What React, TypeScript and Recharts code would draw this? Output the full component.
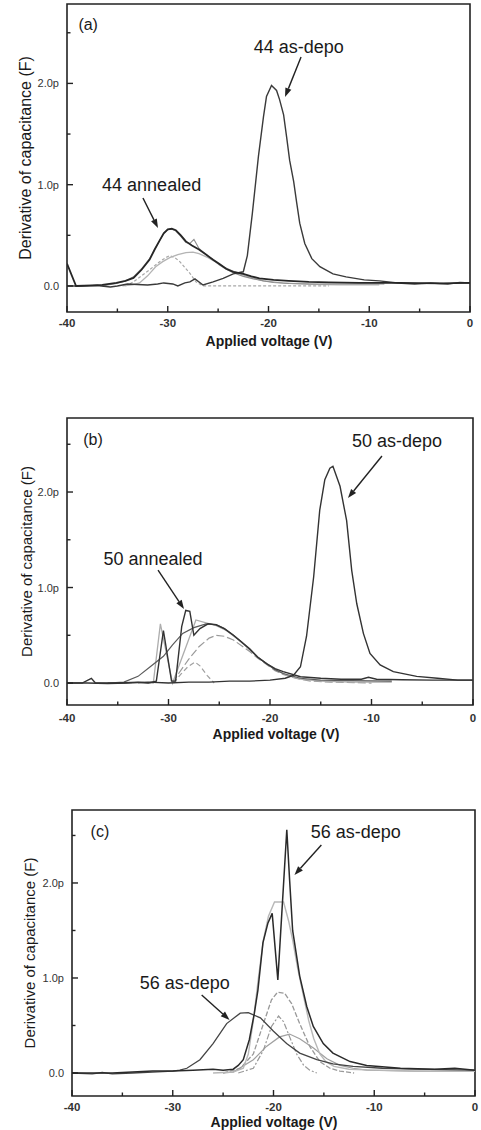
import React from 'react';
import { LineChart, Line, XAxis, YAxis, ReferenceArea, ReferenceDot, ReferenceLine } from 'recharts';

type Pt = [number, number];

const X_TICKS = [-40, -35, -30, -25, -20, -15, -10, -5, 0];
const X_MAJOR = [-40, -30, -20, -10, 0];
const Y_TICKS = [0, 0.5, 1, 1.5, 2, 2.5];
const Y_MAJOR = [0, 1, 2];
const Y_TICK_LABELS = ['0.0', '1.0p', '2.0p'];
const X_TITLE = 'Applied voltage (V)';
const Y_TITLE = 'Derivative of capacitance (F)';

// ---------- Panel (a) ----------
const aAsDepo: Pt[] = [
  [-40, 0], [-38.5, 0], [-37, 0.005], [-35.7, -0.01], [-35, 0], [-34, 0.02], [-33, 0.015], [-32, 0.01],
  [-31, 0.02], [-30.4, 0.03], [-29.5, 0.02], [-29, 0], [-28.3, 0.03], [-27.8, 0.04], [-27.3, 0.07],
  [-26.5, 0.01], [-25.5, 0.04], [-24.5, 0.075], [-23.5, 0.12], [-23, 0.13], [-22.5, 0.14], [-22.1, 0.3],
  [-21.6, 0.72], [-21, 1.28], [-20.5, 1.67], [-20.2, 1.87], [-19.7, 1.98], [-19.2, 1.93], [-18.9, 1.84],
  [-18.5, 1.69], [-18.2, 1.47], [-17.9, 1.24], [-17.5, 1.03], [-17.2, 0.82], [-16.9, 0.62], [-16.4, 0.42],
  [-15.7, 0.27], [-14.9, 0.19], [-13.6, 0.12], [-12.3, 0.09], [-10.5, 0.06], [-9, 0.05], [-7.2, 0.03],
  [-5.5, 0.02], [-3.9, 0.03], [-2.2, 0.02], [-1, 0.035], [0, 0.03],
];
const aAnnealed: Pt[] = [
  [-40, 0.22], [-39.1, 0], [-37.5, 0.005], [-36.5, 0.01], [-35.1, 0.03], [-34.2, 0.05], [-33.4, 0.08],
  [-32.6, 0.16], [-31.8, 0.26], [-31.3, 0.36], [-30.8, 0.45], [-30.4, 0.52], [-30, 0.56], [-29.6, 0.565],
  [-29.2, 0.55], [-28.7, 0.5], [-28.2, 0.44], [-27.6, 0.4], [-26.9, 0.36], [-26.2, 0.31], [-25.5, 0.26],
  [-24.9, 0.22], [-24.2, 0.17], [-23.5, 0.14], [-22.5, 0.12], [-21.7, 0.095], [-20.9, 0.076], [-19.5, 0.06],
  [-18, 0.05], [-16, 0.04], [-14, 0.035], [-11, 0.03], [-7, 0.03], [-3, 0.025], [0, 0.03],
];
const aFitSum: Pt[] = [
  [-36.5, 0], [-35.1, 0.025], [-34.2, 0.05], [-33.4, 0.09], [-32.6, 0.17], [-31.8, 0.27], [-31.3, 0.36],
  [-30.8, 0.45], [-30.4, 0.52], [-30, 0.555], [-29.6, 0.56], [-29.2, 0.545], [-28.7, 0.49], [-28.2, 0.43],
  [-27.8, 0.42], [-27.4, 0.46], [-26.9, 0.37], [-26.2, 0.31], [-25.5, 0.26], [-24.9, 0.21], [-24.2, 0.165],
  [-23.5, 0.13], [-22.5, 0.095], [-21.5, 0.07], [-20.5, 0.05], [-19.5, 0.035], [-18, 0.025], [-15, 0.02],
  [-10, 0.02], [-8.5, 0.02],
];
const aPeak1: Pt[] = [
  [-34.2, 0], [-33.4, 0.04], [-32.6, 0.1], [-31.8, 0.16], [-30.8, 0.24], [-30.2, 0.28], [-29.8, 0.3],
  [-29.3, 0.28], [-28.8, 0.24], [-27.8, 0.125], [-27.2, 0.04], [-26.5, 0], [-14, 0],
];
const aPeak2: Pt[] = [
  [-34.5, 0], [-33.5, 0.01], [-32.8, 0.03], [-32, 0.1], [-31.2, 0.19], [-30.5, 0.24], [-29.8, 0.28],
  [-29, 0.31], [-28.2, 0.33], [-27.5, 0.335], [-26.9, 0.32], [-26, 0.28], [-25.3, 0.24], [-24.5, 0.19],
  [-23.6, 0.15], [-22.3, 0.1], [-20.5, 0.05], [-18.6, 0.03], [-16, 0.015], [-13, 0.01], [-9, 0.01],
];

// ---------- Panel (b) ----------
const bAsDepo: Pt[] = [
  [-40, 0], [-38, 0], [-36, -0.005], [-34, 0], [-32, 0.01], [-30, 0], [-28, 0.01], [-26, 0.01], [-24, 0.02],
  [-22, 0.02], [-20, 0.03], [-18.5, 0.05], [-17.7, 0.08], [-17, 0.17], [-16.4, 0.49], [-15.7, 1.11],
  [-15.1, 1.81], [-14.6, 2.13], [-14.1, 2.25], [-13.8, 2.27], [-13.1, 2.06], [-12.45, 1.7], [-11.95, 1.18],
  [-11.45, 0.83], [-10.8, 0.52], [-10.15, 0.31], [-9.15, 0.19], [-7.85, 0.12], [-5.55, 0.07], [-3.5, 0.05],
  [-1.5, 0.03], [0, 0.03],
];
const bAnnealed: Pt[] = [
  [-40, 0], [-38.5, 0], [-37.6, 0.05], [-37.2, 0], [-35, 0], [-33, 0.01], [-32, 0], [-31.2, 0.02],
  [-30.5, 0.55], [-29.7, 0.02], [-29.3, 0.02], [-28.7, 0.59], [-28.3, 0.76], [-27.9, 0.75], [-27.5, 0.5],
  [-26.9, 0.57], [-26.1, 0.62], [-25.3, 0.61], [-24.5, 0.57], [-23.6, 0.5], [-22.8, 0.43], [-22, 0.36],
  [-21.2, 0.27], [-20.3, 0.2], [-19.5, 0.15], [-18.7, 0.12], [-17, 0.066], [-15, 0.05], [-13, 0.04],
  [-11, 0.04], [-10.3, 0.06], [-9.5, 0.04], [-7, 0.035], [-4, 0.03], [0, 0.03],
];
const bSmooth: Pt[] = [
  [-36, 0], [-34.4, 0.01], [-33, 0.07], [-31.8, 0.17], [-30.5, 0.28], [-29.6, 0.4], [-28.6, 0.52],
  [-27.5, 0.58], [-26.3, 0.62], [-25.3, 0.61], [-24.5, 0.57], [-23.6, 0.5], [-22.8, 0.43], [-22, 0.35],
  [-21.2, 0.27], [-20.3, 0.2], [-19.5, 0.14], [-18.7, 0.1], [-17, 0.05], [-15, 0.03], [-12, 0.025], [-8, 0.02],
];
const bFitSum: Pt[] = [
  [-33, 0], [-31.5, 0], [-30.8, 0.62], [-29.6, 0], [-27.3, 0.66], [-26.3, 0.63], [-25.3, 0.6], [-24.3, 0.55],
  [-23.3, 0.47], [-22.3, 0.38], [-21.3, 0.28], [-20.3, 0.2], [-19.3, 0.13], [-18.3, 0.08], [-17, 0.04],
  [-15, 0.02], [-12, 0.01], [-8, 0.01],
];
const bPeakSmall: Pt[] = [
  [-29.5, 0], [-28.8, 0.09], [-28.1, 0.17], [-27.4, 0.22], [-26.9, 0.18], [-26.2, 0.08], [-25.5, 0],
];
const bPeakBroad: Pt[] = [
  [-29.6, 0], [-29, 0.1], [-28, 0.25], [-27, 0.38], [-26, 0.47], [-25.3, 0.5], [-24.5, 0.49], [-23.6, 0.45],
  [-22.8, 0.39], [-22, 0.33], [-21.2, 0.26], [-20.3, 0.19], [-19.5, 0.13], [-18.7, 0.09], [-17.5, 0.05],
  [-16, 0.02], [-14, 0.01], [-10, 0],
];

// ---------- Panel (c) ----------
const cAsDepoLow: Pt[] = [
  [-40, 0], [-38, -0.01], [-37, 0.005], [-36, -0.01], [-34, 0], [-32, 0.01], [-30, 0.02], [-29.3, 0.03],
  [-28.6, 0.05], [-27.3, 0.14], [-26, 0.31], [-24.65, 0.52], [-23.3, 0.63], [-22.5, 0.635], [-21.3, 0.58],
  [-20, 0.44], [-18.7, 0.31], [-17.4, 0.21], [-15.7, 0.14], [-14.1, 0.095], [-12.1, 0.07], [-9.2, 0.05],
  [-6, 0.04], [0, 0.03],
];
const cAsDepoHigh: Pt[] = [
  [-40, 0], [-38, 0], [-36, 0], [-34, 0.01], [-32, 0.02], [-30, 0.02], [-28, 0.03], [-26, 0.04], [-25, 0.03],
  [-24, 0.04], [-23.5, 0.08], [-23, 0.14], [-22.4, 0.35], [-21.9, 0.63], [-21.55, 0.87], [-21.05, 1.37],
  [-20.55, 1.58], [-20.13, 1.68], [-19.57, 0.98], [-18.68, 2.56], [-18.4, 2.03], [-18.1, 1.5], [-17.4, 1.02],
  [-16.7, 0.7], [-16.05, 0.49], [-15.06, 0.31], [-14.1, 0.21], [-12.4, 0.12], [-10.75, 0.08], [-7.4, 0.05],
  [-4, 0.04], [-2, 0.05], [0, 0.03],
];
const cFitSum: Pt[] = [
  [-26, 0], [-24, 0.01], [-23, 0.05], [-22.5, 0.2], [-22, 0.55], [-21.5, 1], [-21, 1.4], [-20.5, 1.65],
  [-19.9, 1.8], [-19, 1.8], [-18.5, 1.6], [-18.1, 1.4], [-17.6, 1.1], [-17, 0.8], [-16.5, 0.55], [-16, 0.36],
  [-15.4, 0.2], [-14.8, 0.12], [-14, 0.07], [-12.5, 0.04], [-10, 0.03], [-6, 0.02], [0, 0.02],
];
const cPeakMid: Pt[] = [
  [-25, 0], [-23.3, 0.05], [-22, 0.2], [-21, 0.52], [-20.2, 0.77], [-19.6, 0.85], [-18.9, 0.84], [-18.2, 0.73],
  [-17.4, 0.52], [-16.4, 0.28], [-15.4, 0.12], [-14.4, 0.05], [-13.4, 0.02], [-12, 0],
];
const cPeakNarrow: Pt[] = [
  [-23.5, 0], [-22, 0.05], [-21, 0.24], [-20.2, 0.49], [-19.5, 0.6], [-19, 0.54], [-18.4, 0.38], [-17.7, 0.2],
  [-17, 0.08], [-16.4, 0.03], [-15.7, 0],
];
const cPeakBroad: Pt[] = [
  [-25, 0], [-24, 0.01], [-22, 0.14], [-20.7, 0.28], [-19.4, 0.38], [-18.4, 0.41], [-17.4, 0.36], [-16, 0.26],
  [-14.7, 0.15], [-13.4, 0.08], [-12.1, 0.05], [-10.75, 0.03], [-6, 0.02], [0, 0.02],
];

// ---------- Annotations (data coordinates) ----------
const aNotes = [
  { v: -37.9, c: 2.58, text: '(a)', size: 16 },
  { v: -17.0, c: 2.36, text: '44 as-depo', size: 18 },
  { v: -31.6, c: 1.0, text: '44 annealed', size: 18 },
];
const aArrows = [
  { from: [-16.77, 2.26], to: [-18.36, 1.866] },
  { from: [-32.46, 0.869], to: [-30.97, 0.573] },
];
const bNotes = [
  { v: -37.44, c: 2.545, text: '(b)', size: 16 },
  { v: -7.49, c: 2.534, text: '50 as-depo', size: 18 },
  { v: -31.53, c: 1.298, text: '50 annealed', size: 18 },
];
const bArrows = [
  { from: [-8.97, 2.377], to: [-12.32, 1.937] },
  { from: [-31.03, 1.183], to: [-28.47, 0.775] },
];
const cNotes = [
  { v: -37.23, c: 2.537, text: '(c)', size: 16 },
  { v: -11.83, c: 2.537, text: '56 as-depo', size: 18 },
  { v: -28.81, c: 0.947, text: '56 as-depo', size: 18 },
];
const cArrows = [
  { from: [-15.25, 2.4], to: [-17.92, 2.084] },
  { from: [-27.13, 0.821], to: [-24.36, 0.558] },
];

const FONT = "Arial, 'Liberation Sans', Helvetica, sans-serif";
const INK = '#222';

type Series = { data: Pt[]; stroke: string; width: number; dash?: string };

const toPts = (arr: Pt[]) => arr.map(([v, c]) => ({ v, c }));

const Arrow = (p: any) => {
  const { x1, y1, x2, y2 } = p;
  const ang = Math.atan2(y2 - y1, x2 - x1);
  const L = 9;
  const W = 3.2;
  const bx = x2 - L * Math.cos(ang);
  const by = y2 - L * Math.sin(ang);
  const pts = `${x2},${y2} ${bx - W * Math.sin(ang)},${by + W * Math.cos(ang)} ${bx + W * Math.sin(ang)},${by - W * Math.cos(ang)}`;
  return (
    <g>
      <line x1={x1} y1={y1} x2={bx} y2={by} stroke={INK} strokeWidth={1.4} />
      <polygon points={pts} fill={INK} />
    </g>
  );
};

type PanelCfg = {
  top: number;
  height: number;
  margin: { top: number; right: number; left: number; bottom: number };
  yAxisWidth: number;
  xAxisHeight: number;
  yDomain: [number, number];
  tickDy: number;
  titleDy: number;
  titleX: number;
  yTitleX: number;
  yTitleSize: number;
  series: Series[];
  notes: { v: number; c: number; text: string; size: number }[];
  arrows: { from: number[]; to: number[] }[];
};

const Panel = ({ cfg }: { cfg: PanelCfg }) => {
  const plotTop = cfg.margin.top;
  const plotBottom = cfg.height - cfg.margin.bottom - cfg.xAxisHeight;
  const yMid = (plotTop + plotBottom) / 2;

  const xTick = (props: any) => {
    const { x, y, payload } = props;
    const major = X_MAJOR.includes(payload.value);
    return (
      <g>
        <line x1={x} x2={x} y1={y} y2={y - (major ? 6 : 3.5)} stroke={INK} strokeWidth={1.4} />
        {major && (
          <text x={x} y={y + cfg.tickDy} textAnchor="middle" dominantBaseline="central" fontFamily={FONT}
            fontSize={11.5} fontWeight="bold" fill="#333">
            {payload.value}
          </text>
        )}
      </g>
    );
  };
  const yTick = (props: any) => {
    const { x, y, payload } = props;
    const idx = Y_MAJOR.indexOf(payload.value);
    const major = idx >= 0;
    return (
      <g>
        <line x1={x} x2={x + (major ? 6 : 3.5)} y1={y} y2={y} stroke={INK} strokeWidth={1.4} />
        {major && (
          <text x={x - 8} y={y} textAnchor="end" dominantBaseline="central" fontFamily={FONT}
            fontSize={11} fill="#333">
            {Y_TICK_LABELS[idx]}
          </text>
        )}
      </g>
    );
  };

  return (
    <div style={{ position: 'absolute', left: 0, top: cfg.top, width: 481, height: cfg.height }}>
      <LineChart width={481} height={cfg.height} margin={cfg.margin}>
        <XAxis
          type="number"
          dataKey="v"
          domain={[-40, 0]}
          ticks={X_TICKS}
          interval={0}
          allowDataOverflow
          axisLine={false}
          tickLine={false}
          tickSize={0}
          tickMargin={0}
          height={cfg.xAxisHeight}
          tick={xTick}
          label={{
            content: () => (
              <text x={cfg.titleX} y={plotBottom + cfg.titleDy} textAnchor="middle" dominantBaseline="central"
                fontFamily={FONT} fontSize={14} fontWeight="bold" fill="#1a1a1a">
                {X_TITLE}
              </text>
            ),
          }}
        />
        <YAxis
          type="number"
          domain={cfg.yDomain}
          ticks={Y_TICKS}
          interval={0}
          allowDataOverflow
          axisLine={false}
          tickLine={false}
          tickSize={0}
          tickMargin={0}
          width={cfg.yAxisWidth}
          tick={yTick}
          label={{
            content: () => (
              <text x={cfg.yTitleX} y={yMid} textAnchor="middle" dominantBaseline="central"
                transform={`rotate(-90, ${cfg.yTitleX}, ${yMid})`}
                fontFamily={FONT} fontSize={cfg.yTitleSize} fill="#1a1a1a">
                {Y_TITLE}
              </text>
            ),
          }}
        />
        <ReferenceArea x1={-40} x2={0} y1={cfg.yDomain[0]} y2={cfg.yDomain[1]} fill="none" fillOpacity={0}
          stroke={INK} strokeWidth={1.6} ifOverflow="visible" />
        {cfg.series.map((s, i) => (
          <Line
            key={i}
            data={toPts(s.data)}
            dataKey="c"
            type="linear"
            stroke={s.stroke}
            strokeWidth={s.width}
            strokeDasharray={s.dash}
            dot={false}
            activeDot={false}
            isAnimationActive={false}
          />
        ))}
        {cfg.arrows.map((a, i) => (
          <ReferenceLine
            key={'ar' + i}
            segment={[{ x: a.from[0], y: a.from[1] }, { x: a.to[0], y: a.to[1] }]}
            shape={Arrow}
            ifOverflow="visible"
          />
        ))}
        {cfg.notes.map((n, i) => (
          <ReferenceDot
            key={'n' + i}
            x={n.v}
            y={n.c}
            r={1}
            ifOverflow="visible"
            shape={(p: any) => (
              <text x={p.cx} y={p.cy} textAnchor="middle" dominantBaseline="central" fontFamily={FONT}
                fontSize={n.size} fill="#1a1a1a">
                {n.text}
              </text>
            )}
          />
        ))}
      </LineChart>
    </div>
  );
};

const panelA: PanelCfg = {
  top: 0,
  height: 350,
  margin: { top: 4, right: 11, left: 0, bottom: 0 },
  yAxisWidth: 67,
  xAxisHeight: 38,
  yDomain: [-0.257, 2.784],
  tickDy: 11,
  titleDy: 29,
  titleX: 269,
  yTitleX: 25,
  yTitleSize: 16,
  series: [
    { data: aPeak1, stroke: '#a8a8a8', width: 1.2, dash: '3 2' },
    { data: aPeak2, stroke: '#b4b4b4', width: 1.3 },
    { data: aFitSum, stroke: '#8c8c8c', width: 1.1 },
    { data: aAsDepo, stroke: '#3a3a3a', width: 1.4 },
    { data: aAnnealed, stroke: '#262626', width: 1.8 },
  ],
  notes: aNotes,
  arrows: aArrows,
};

const panelB: PanelCfg = {
  top: 400,
  height: 343,
  margin: { top: 18, right: 8, left: 0, bottom: 0 },
  yAxisWidth: 67,
  xAxisHeight: 38,
  yDomain: [-0.23, 2.775],
  tickDy: 13,
  titleDy: 29,
  titleX: 276,
  yTitleX: 26,
  yTitleSize: 15,
  series: [
    { data: bPeakSmall, stroke: '#a0a0a0', width: 1.2, dash: '5 3' },
    { data: bPeakBroad, stroke: '#9a9a9a', width: 1.2, dash: '8 3' },
    { data: bFitSum, stroke: '#adadad', width: 1.3 },
    { data: bSmooth, stroke: '#5a5a5a', width: 1.2 },
    { data: bAsDepo, stroke: '#333', width: 1.4 },
    { data: bAnnealed, stroke: '#333', width: 1.4 },
  ],
  notes: bNotes,
  arrows: bArrows,
};

const panelC: PanelCfg = {
  top: 790,
  height: 340,
  margin: { top: 20, right: 6, left: 0, bottom: 0 },
  yAxisWidth: 72,
  xAxisHeight: 34,
  yDomain: [-0.242, 2.768],
  tickDy: 11,
  titleDy: 26,
  titleX: 274,
  yTitleX: 29,
  yTitleSize: 15,
  series: [
    { data: cPeakBroad, stroke: '#a0a0a0', width: 1.2 },
    { data: cPeakNarrow, stroke: '#999', width: 1.2, dash: '6 2 2 2' },
    { data: cPeakMid, stroke: '#999', width: 1.3, dash: '5 2' },
    { data: cFitSum, stroke: '#b8b8b8', width: 1.4 },
    { data: cAsDepoLow, stroke: '#444', width: 1.3 },
    { data: cAsDepoHigh, stroke: '#2a2a2a', width: 1.5 },
  ],
  notes: cNotes,
  arrows: cArrows,
};

export default function App() {
  return (
    <div style={{ position: 'absolute', left: 0, top: 0, width: 481, height: 1130, background: '#fff' }}>
      <Panel cfg={panelA} />
      <Panel cfg={panelB} />
      <Panel cfg={panelC} />
    </div>
  );
}
